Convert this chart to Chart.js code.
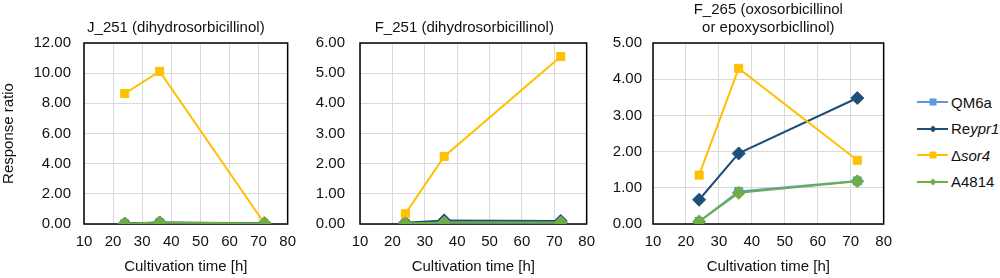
<!DOCTYPE html>
<html>
<head>
<meta charset="utf-8">
<script src="https://cdn.jsdelivr.net/npm/chart.js@4.4.1/dist/chart.umd.min.js"></script>
<style>
  body { margin: 0; background: #fff; font-family: "Liberation Sans", Arial, sans-serif; }
  #wrap { position: relative; width: 1000px; height: 278px; overflow: hidden; }
  .panel { position: absolute; top: 0; height: 278px; }
  #legend { position: absolute; left: 917px; top: 89px; font-size: 15px; color: #111; }
  .item { height: 26.5px; display: flex; align-items: center; white-space: nowrap; }
  .key { position: relative; width: 31px; height: 2px; margin-right: 3px; }
  .mark { position: absolute; left: 50%; top: 50%; }
</style>
</head>
<body>
<div id="wrap">
  <div class="panel" style="left:0;width:305px"><canvas id="c1"></canvas></div>
  <div class="panel" style="left:305px;width:299px"><canvas id="c2"></canvas></div>
  <div class="panel" style="left:604px;width:297px"><canvas id="c3"></canvas></div>
  <div id="legend"></div>
</div>
<script>
// sampling times (h)
const hours = [24, 36, 72];

const seriesNames = ["QM6a", "Reypr1", "\u0394sor4", "A4814"];
const seriesLegend = ["QM6a", "Re<i>ypr1</i>", "\u0394<i>sor4</i>", "A4814"];

// J_251 (dihydrosorbicillinol)
const j251QM6a = [0.01, 0.08, 0.03];
const j251Reypr1 = [0.03, 0.1, 0.05];
const j251Sor4 = [8.65, 10.12, 0.05];
const j251A4814 = [0.02, 0.1, 0.04];

// F_251 (dihydrosorbicillinol)
const f251QM6a = [0.02, 0.05, 0.05];
const f251Reypr1 = [0.04, 0.12, 0.1];
const f251Sor4 = [0.34, 2.24, 5.55];
const f251A4814 = [0.02, 0.05, 0.05];

// F_265 (oxosorbicillinol or epoxysorbicllinol)
const f265QM6a = [0.07, 0.9, 1.19];
const f265Reypr1 = [0.67, 1.95, 3.48];
const f265Sor4 = [1.35, 4.3, 1.76];
const f265A4814 = [0.07, 0.86, 1.18];

// y axis ranges
const yMaxes = [12, 6, 5];
const ySteps = [2, 1, 1];

const titles = [
  ["J_251 (dihydrosorbicillinol)"],
  ["F_251 (dihydrosorbicillinol)"],
  ["F_265 (oxosorbicillinol", "or epoxysorbicllinol)"],
];

const styles = [
  { color: "#5b9bd5", point: "rect", r: 5.7 },
  { color: "#1f4e79", point: "rectRot", r: 6.5 },
  { color: "#ffc000", point: "rect", r: 5.7 },
  { color: "#70ad47", point: "rectRot", r: 6.5 },
];

const TXT = "#111";
const FONT = { family: "'Liberation Sans', Arial, sans-serif", size: 15 };

// black frame round the plot area + panel title
const framePlugin = {
  id: "frameTitle",
  beforeDatasetsDraw(chart) {
    const { ctx, chartArea: a } = chart;
    ctx.save();
    ctx.strokeStyle = "#000";
    ctx.lineWidth = 1.5;
    ctx.strokeRect(a.left, a.top, a.right - a.left, a.bottom - a.top);
    ctx.restore();
  },
  afterDraw(chart, args, opts) {
    const { ctx, chartArea: a } = chart;
    const lines = opts.lines || [];
    const cx = (a.left + a.right) / 2 + (opts.dx || 0);
    ctx.save();
    ctx.fillStyle = TXT;
    ctx.font = "15px 'Liberation Sans', Arial, sans-serif";
    ctx.textAlign = "center";
    ctx.textBaseline = "middle";
    lines.forEach((t, i) => {
      ctx.fillText(t, cx, 28 - (lines.length - 1 - i) * 18);
    });
    ctx.restore();
  },
};

function makePanel(id, idx, values, axisW, tickPad, titleDx, showYTitle) {
  const datasets = values.map((vals, i) => ({
    label: seriesNames[i],
    data: hours.map((h, k) => ({ x: h, y: vals[k] })),
    borderColor: styles[i].color,
    backgroundColor: styles[i].color,
    borderWidth: 2,
    pointStyle: styles[i].point,
    pointRadius: styles[i].r,
    pointBorderWidth: 1,
    order: 3 - i, // later series sit on top, as in the original
  }));

  new Chart(document.getElementById(id), {
    type: "line",
    data: { datasets },
    options: {
      responsive: true,
      maintainAspectRatio: false,
      animation: false,
      layout: { padding: { top: 43, right: 10, bottom: 0, left: 0 } },
      plugins: {
        legend: { display: false },
        tooltip: { enabled: false },
        frameTitle: { lines: titles[idx], dx: titleDx },
      },
      scales: {
        x: {
          type: "linear",
          min: 10,
          max: 80,
          ticks: { stepSize: 10, color: TXT, font: FONT, padding: 9 },
          grid: { color: "#d9d9d9", drawTicks: false },
          border: { display: false },
          title: {
            display: true,
            text: "Cultivation time [h]",
            color: TXT,
            font: FONT,
            padding: { top: 0, bottom: 2 },
          },
          afterFit: (s) => { s.height = 54; },
        },
        y: {
          min: 0,
          max: yMaxes[idx],
          ticks: {
            stepSize: ySteps[idx],
            color: TXT,
            font: FONT,
            padding: tickPad,
            callback: (v) => v.toFixed(2),
          },
          grid: { color: "#d9d9d9", drawTicks: false },
          border: { display: false },
          title: {
            display: showYTitle,
            text: "Response ratio",
            color: TXT,
            font: FONT,
            padding: { top: 0, bottom: 0 },
          },
          afterFit: (s) => { s.width = axisW; },
        },
      },
    },
    plugins: [framePlugin],
  });
}

makePanel("c1", 0, [j251QM6a, j251Reypr1, j251Sor4, j251A4814], 84, 13, -10, true);
makePanel("c2", 1, [f251QM6a, f251Reypr1, f251Sor4, f251A4814], 55, 15, -9, false);
makePanel("c3", 2, [f265QM6a, f265Reypr1, f265Sor4, f265A4814], 49, 11, 0, false);

// legend: line with marker, then name
const legend = document.getElementById("legend");
seriesLegend.forEach((html, i) => {
  const st = styles[i];
  const row = document.createElement("div");
  row.className = "item";
  const key = document.createElement("span");
  key.className = "key";
  key.style.background = st.color;
  const m = document.createElement("span");
  m.className = "mark";
  m.style.background = st.color;
  if (st.point === "rect") {
    m.style.width = "7px"; m.style.height = "7px";
    m.style.transform = "translate(-50%,-50%)";
  } else {
    m.style.width = "5px"; m.style.height = "5px";
    m.style.transform = "translate(-50%,-50%) rotate(45deg)";
  }
  key.appendChild(m);
  const label = document.createElement("span");
  label.innerHTML = html;
  row.appendChild(key);
  row.appendChild(label);
  legend.appendChild(row);
});
</script>
</body>
</html>
